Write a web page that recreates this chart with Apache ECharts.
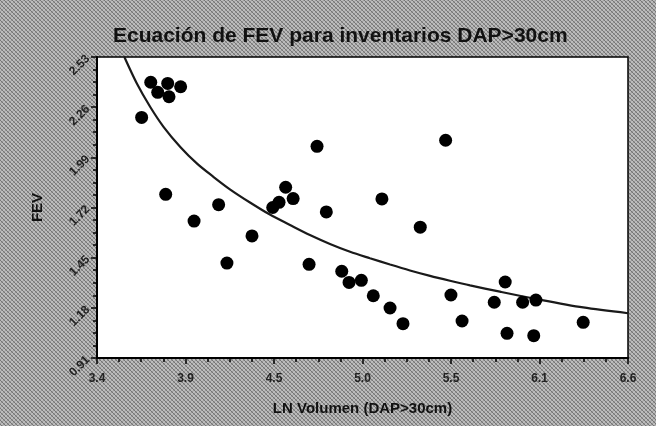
<!DOCTYPE html>
<html>
<head>
<meta charset="utf-8">
<script src="https://cdn.jsdelivr.net/npm/echarts@6/dist/echarts.min.js"></script>
<style>
  html, body { margin: 0; padding: 0; }
  #fev-chart { width: 656px; height: 426px; }
</style>
</head>
<body>
<div id="fev-chart"></div>
<script>
    // puntos observados (LN volumen, FEV)
    var volX = [3.669, 3.724, 3.766, 3.826, 3.834, 3.904, 3.814, 3.985, 4.133, 4.183,
                4.334, 4.459, 4.497, 4.537, 4.582, 4.726, 4.782, 4.678, 4.875, 4.919,
                4.993, 5.065, 5.166, 5.117, 5.244, 5.348, 5.501, 5.533, 5.600, 5.794,
                5.860, 5.871, 5.965, 6.045, 6.032, 6.330];
    var fevY = [2.205, 2.394, 2.340, 2.388, 2.316, 2.370, 1.791, 1.647, 1.735, 1.421,
                1.567, 1.720, 1.748, 1.829, 1.768, 2.049, 1.696, 1.414, 1.377, 1.317,
                1.328, 1.245, 1.179, 1.766, 1.095, 1.614, 2.082, 1.249, 1.109, 1.210,
                1.319, 1.043, 1.210, 1.222, 1.030, 1.102];

    // curva ajustada
    var curveX = [3.565, 3.641, 3.721, 3.802, 3.902, 4.003, 4.103, 4.201, 4.322, 4.442,
                  4.563, 4.683, 4.804, 4.925, 5.045, 5.166, 5.286, 5.407, 5.527, 5.648,
                  5.828, 6.045, 6.330, 6.600];
    var curveY = [2.530, 2.386, 2.261, 2.153, 2.046, 1.956, 1.884, 1.818, 1.747, 1.682,
                  1.626, 1.572, 1.524, 1.482, 1.447, 1.413, 1.381, 1.352, 1.326, 1.301,
                  1.267, 1.228, 1.182, 1.151];

    // marcas de los ejes
    var xTickValues = [3.4, 3.9333, 4.4667, 5.0, 5.5333, 6.0667, 6.6];
    var xTickLabels = ['3.4', '3.9', '4.5', '5.0', '5.5', '6.1', '6.6'];
    var yTickValues = [0.91, 1.18, 1.45, 1.72, 1.99, 2.26, 2.53];
    var yTickLabels = ['0.91', '1.18', '1.45', '1.72', '1.99', '2.26', '2.53'];

    function minorTicks(majors) {
        var out = [];
        for (var i = 0; i < majors.length - 1; i++) {
            var step = (majors[i + 1] - majors[i]) / 4;
            for (var k = 1; k < 4; k++) out.push(majors[i] + step * k);
        }
        return out;
    }

    function labelFor(values, labels) {
        return function (v) {
            var best = 0;
            for (var i = 1; i < values.length; i++) {
                if (Math.abs(values[i] - v) < Math.abs(values[best] - v)) best = i;
            }
            return labels[best];
        };
    }

    // fondo gris tramado
    var tile = document.createElement('canvas');
    tile.width = 4; tile.height = 4;
    var tctx = tile.getContext('2d');
    tctx.fillStyle = '#bcbcbc';
    tctx.fillRect(0, 0, 4, 4);
    tctx.fillStyle = '#767676';
    for (var p = 0; p < 4; p++) tctx.fillRect(p, p, 1, 1);
    tctx.fillStyle = '#989898';
    for (var q = 0; q < 4; q++) tctx.fillRect(3 - q, q, 1, 1);

    var myChart = echarts.init(document.getElementById('fev-chart'));
    var points = volX.map(function (x, i) { return [x, fevY[i]]; });
    var curve = curveX.map(function (x, i) { return [x, curveY[i]]; });

    var option = {
        backgroundColor: { image: tile, repeat: 'repeat' },
        animation: false,
        title: {
            text: 'Ecuación de FEV para inventarios DAP>30cm',
            left: 108,
            top: 21,
            textStyle: {
                fontFamily: 'Liberation Sans',
                fontSize: 21,
                fontWeight: 'bold',
                color: '#111'
            }
        },
        grid: {
            left: 97,
            top: 57,
            right: 28,
            bottom: 68,
            show: true,
            backgroundColor: '#fff',
            borderColor: '#000',
            borderWidth: 1.5
        },
        xAxis: [
            {
                type: 'value',
                min: 3.4,
                max: 6.6,
                name: 'LN Volumen (DAP>30cm)',
                nameLocation: 'middle',
                nameGap: 43,
                nameTextStyle: {
                    fontFamily: 'Liberation Sans',
                    fontSize: 15,
                    fontWeight: 'bold',
                    color: '#111'
                },
                axisLine: { lineStyle: { color: '#000', width: 2 } },
                axisTick: { customValues: xTickValues, length: 6, lineStyle: { color: '#000', width: 1.5 } },
                axisLabel: {
                    customValues: xTickValues,
                    formatter: labelFor(xTickValues, xTickLabels),
                    margin: 15,
                    fontFamily: 'Liberation Sans',
                    fontSize: 12,
                    fontWeight: 'bold',
                    color: '#222'
                },
                splitLine: { show: false }
            },
            {
                type: 'value',
                min: 3.4,
                max: 6.6,
                position: 'bottom',
                axisLine: { show: false },
                axisTick: { customValues: minorTicks(xTickValues), length: 4, lineStyle: { color: '#000', width: 1.5 } },
                axisLabel: { show: false },
                splitLine: { show: false }
            }
        ],
        yAxis: [
            {
                type: 'value',
                min: 0.91,
                max: 2.53,
                name: 'FEV',
                nameLocation: 'middle',
                nameGap: 52,
                nameTextStyle: {
                    fontFamily: 'Liberation Sans',
                    fontSize: 15,
                    fontWeight: 'bold',
                    color: '#111'
                },
                axisLine: { lineStyle: { color: '#000', width: 2 } },
                axisTick: { customValues: yTickValues, length: 6, lineStyle: { color: '#000', width: 1.5 } },
                axisLabel: {
                    customValues: yTickValues,
                    formatter: labelFor(yTickValues, yTickLabels),
                    rotate: 45,
                    margin: 9,
                    fontFamily: 'Liberation Sans',
                    fontSize: 12,
                    fontWeight: 'bold',
                    color: '#222'
                },
                splitLine: { show: false }
            },
            {
                type: 'value',
                min: 0.91,
                max: 2.53,
                position: 'left',
                axisLine: { show: false },
                axisTick: { customValues: minorTicks(yTickValues), length: 4, lineStyle: { color: '#000', width: 1.5 } },
                axisLabel: { show: false },
                splitLine: { show: false }
            }
        ],
        series: [
            {
                name: 'ajuste',
                type: 'line',
                data: curve,
                smooth: 0.3,
                showSymbol: false,
                clip: true,
                lineStyle: { color: '#1a1a1a', width: 2.2 },
                z: 2
            },
            {
                name: 'FEV',
                type: 'scatter',
                data: points,
                symbolSize: 13,
                itemStyle: { color: '#000', opacity: 1 },
                z: 3
            }
        ]
    };

    // dibujar
    myChart.setOption(option);
</script>
</body>
</html>
